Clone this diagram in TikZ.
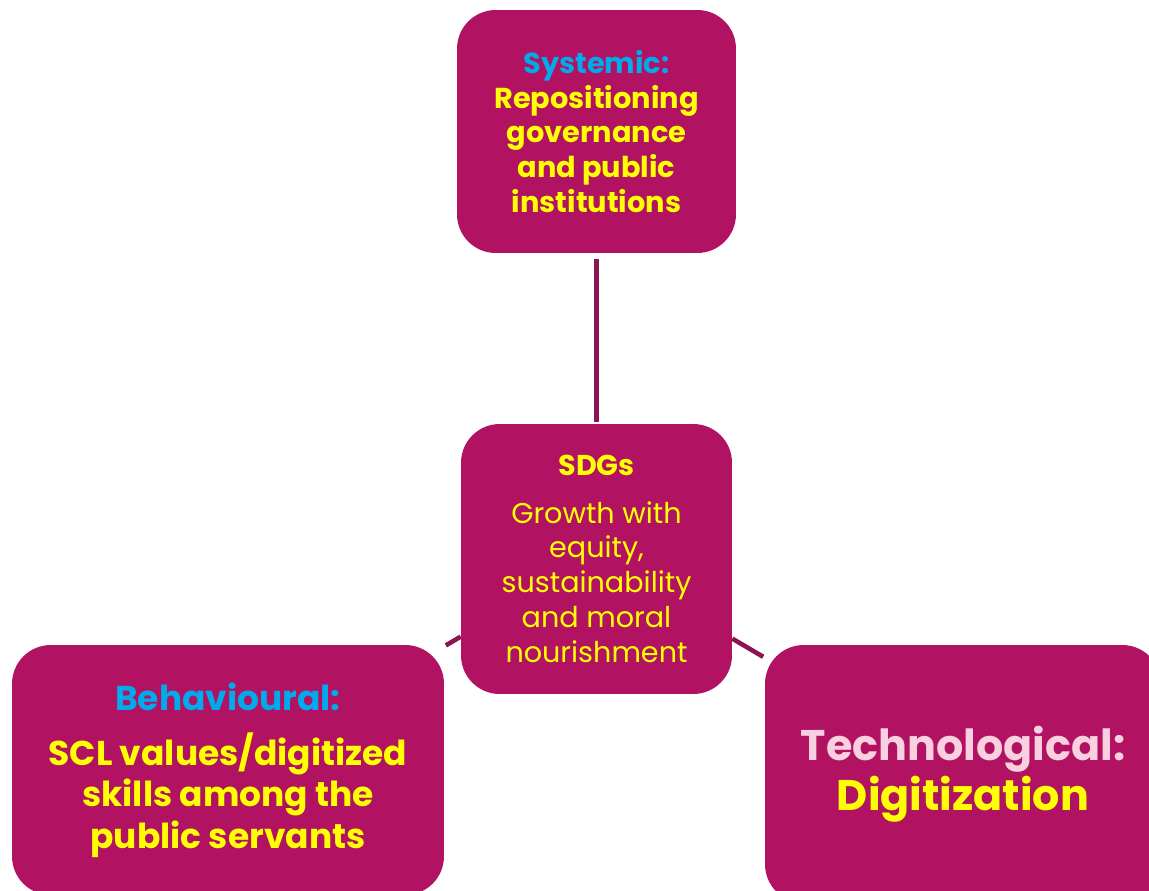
\documentclass[tikz,border=0pt]{standalone}
\usepackage{fontspec}
\setmainfont{Poppins}

\definecolor{boxpink}{RGB}{178,18,98}
\definecolor{linkpurple}{RGB}{140,20,82}
\definecolor{textyellow}{RGB}{255,255,0}
\definecolor{headblue}{RGB}{0,170,235}
\definecolor{headpink}{RGB}{248,208,224}

\tikzset{
  pillar/.style={rectangle, rounded corners=22pt, fill=boxpink, align=center,
    text=textyellow, inner sep=0pt},
  link/.style={draw=linkpurple, line width=2.6pt},
}

\begin{document}
\begin{tikzpicture}[x=0.02cm,y=-0.02cm]
\useasboundingbox (0,0) rectangle (1149,890);
\clip (0,0) rectangle (1149,890);

% the four pillars
\node[pillar, minimum width=5.58cm, minimum height=4.86cm,
  font=\bfseries\fontsize{16.4}{19.8}\selectfont] (sys) at (596.5,131.5)
  {{\color{headblue}Systemic:}\\ Repositioning\\ governance\\ and public\\ institutions};
\node[pillar, minimum width=5.42cm, minimum height=5.40cm,
  font=\fontsize{16.3}{19.8}\selectfont] (sdg) at (596.5,559)
  {\textbf{SDGs}\\[7pt] Growth with\\ equity,\\ sustainability\\ and moral\\ nourishment};
\node[pillar, minimum width=8.64cm, minimum height=5.0cm,
  font=\bfseries\fontsize{19.6}{23.5}\selectfont] (beh) at (228,770)
  {{\color{headblue}Behavioural:}\\[8pt] SCL values/digitized\\ skills among the\\ public servants};
\node[pillar, minimum width=7.92cm, minimum height=5.16cm,
  font=\bfseries\fontsize{24.4}{28.5}\selectfont] (tech) at (963,774)
  {{\color{headpink}Technological:}\\ Digitization};

% links to the centre
\draw[link, shorten <=3pt, shorten >=1pt] (sys) -- (sdg);
\draw[link, shorten <=1pt] (beh) -- (sdg);
\draw[link, shorten <=1pt] (tech) -- (sdg);
\end{tikzpicture}
\end{document}
